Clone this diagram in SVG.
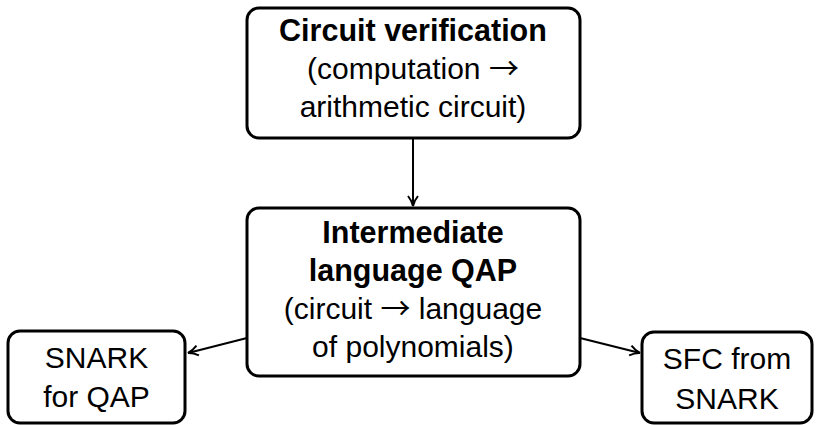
<svg xmlns="http://www.w3.org/2000/svg" width="819" height="425" viewBox="0 0 819 425">
<style>
.box{fill:#fff;stroke:#000;stroke-width:3}
text{font-family:"Liberation Sans",Arial,sans-serif;font-size:30px;fill:#000;text-anchor:middle}
.b{font-weight:bold;font-size:30.5px}
.ar{font-family:"Noto Sans CJK SC","DejaVu Sans",sans-serif;font-size:30px;font-weight:normal}
.edge{stroke:#000;stroke-width:2;fill:none;marker-end:url(#arr)}
</style>
<defs>
<marker id="arr" viewBox="0 0 12 12" refX="11" refY="6" markerWidth="12" markerHeight="12" markerUnits="userSpaceOnUse" orient="auto">
<path d="M1,1 Q6,5 11,6 Q6,7 1,11" fill="none" stroke="#000" stroke-width="2"/>
</marker>
</defs>
<g id="connectors">
<line class="edge" x1="413" y1="138" x2="413" y2="206"/>
<line class="edge" x1="247" y1="338" x2="188" y2="353"/>
<line class="edge" x1="580" y1="338" x2="640" y2="353"/>
</g>
<g id="circuit">
<rect class="box" x="247" y="8" width="333" height="130" rx="12"/>
<text class="b" x="413" y="41">Circuit verification</text>
<text x="413" y="79">(computation <tspan class="ar">→</tspan></text>
<text x="413" y="117">arithmetic circuit)</text>
</g>
<g id="qap">
<rect class="box" x="247" y="208" width="333" height="168" rx="12"/>
<text class="b" x="413" y="243">Intermediate</text>
<text class="b" x="413" y="281">language QAP</text>
<text x="413" y="319">(circuit <tspan class="ar">→</tspan> language</text>
<text x="413" y="357">of polynomials)</text>
</g>
<g id="snark">
<rect class="box" x="8" y="331" width="177" height="92" rx="12"/>
<text x="96.5" y="368">SNARK</text>
<text x="96.5" y="407">for QAP</text>
</g>
<g id="sfc">
<rect class="box" x="642" y="332" width="170" height="91" rx="12"/>
<text x="727" y="369">SFC from</text>
<text x="727" y="409">SNARK</text>
</g>
</svg>
